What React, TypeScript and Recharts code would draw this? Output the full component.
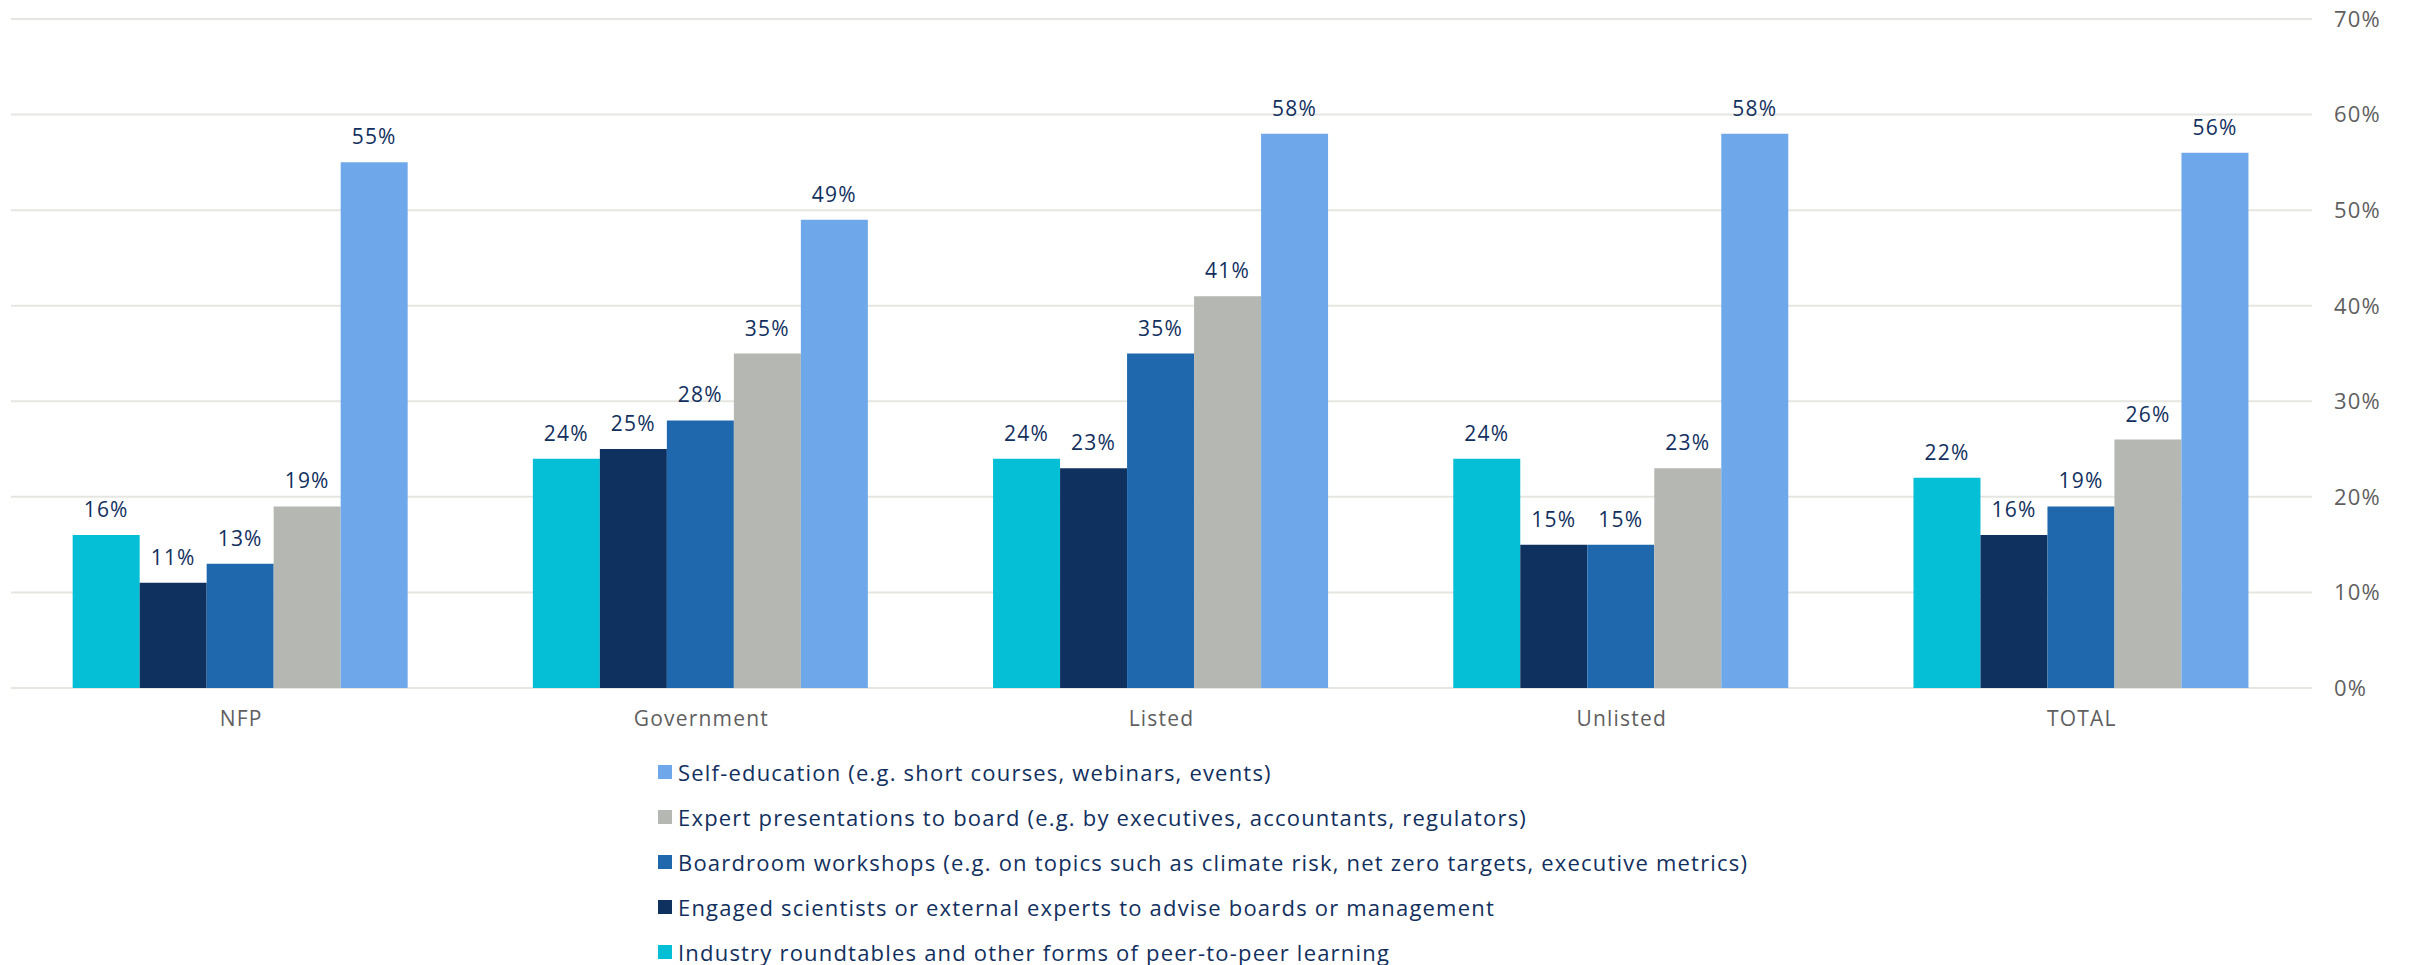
import { Bar, BarChart, CartesianGrid, LabelList, XAxis, YAxis } from "recharts";

const categories = ["NFP", "Government", "Listed", "Unlisted", "TOTAL"];

// one array per survey answer, in category order
const industryRoundtables = [16, 24, 24, 24, 22];
const engagedScientists = [11, 25, 23, 15, 16];
const boardroomWorkshops = [13, 28, 35, 15, 19];
const expertPresentations = [19, 35, 41, 23, 26];
const selfEducation = [55, 49, 58, 58, 56];

const yTicks = [0, 10, 20, 30, 40, 50, 60, 70];

const series = [
  { key: "industry", name: "Industry roundtables and other forms of peer-to-peer learning", values: industryRoundtables, color: "#05BFD7" },
  { key: "scientists", name: "Engaged scientists or external experts to advise boards or management", values: engagedScientists, color: "#0F3160" },
  { key: "workshops", name: "Boardroom workshops (e.g. on topics such as climate risk, net zero targets, executive metrics)", values: boardroomWorkshops, color: "#1F68AD" },
  { key: "expert", name: "Expert presentations to board (e.g. by executives, accountants, regulators)", values: expertPresentations, color: "#B5B7B2" },
  { key: "self", name: "Self-education (e.g. short courses, webinars, events)", values: selfEducation, color: "#6FA8EA" },
];

const data = categories.map((label, i) => {
  const row: Record<string, string | number> = { label };
  series.forEach((s) => {
    row[s.key] = s.values[i];
  });
  return row;
});

const FONT = "'Open Sans', Lato, sans-serif";
const NAVY = "#12305E";
const GREY = "#5F5F5F";
const SPACING = 1.2;

function ChartLegend() {
  // legend lists the answers top-down in reverse bar order
  const items = [...series].reverse();
  return (
    <div style={{ position: "absolute", left: 658, top: 749, fontFamily: FONT }}>
      {items.map((s) => (
        <div key={s.key} style={{ display: "flex", alignItems: "center", height: 45 }}>
          <span style={{ width: 14, height: 14, background: s.color, marginRight: 6, flex: "none" }} />
          <span style={{ fontSize: 22, color: NAVY, whiteSpace: "nowrap", letterSpacing: SPACING }}>{s.name}</span>
        </div>
      ))}
    </div>
  );
}

export default function App() {
  return (
    <div style={{ position: "relative", width: 2410, height: 965, background: "#fff" }}>
      <style>{"body{margin:0}"}</style>
      <BarChart
        width={2410}
        height={965}
        data={data}
        margin={{ top: 19, right: 0, bottom: 0, left: 11 }}
        barCategoryGap="13.4%"
        barGap={0}
      >
        <CartesianGrid vertical={false} stroke="#E6E6E1" strokeWidth={2} />
        <XAxis
          dataKey="label"
          height={277}
          axisLine={false}
          tickLine={false}
          tickMargin={17}
          tick={{ fill: GREY, fontSize: 21, fontFamily: FONT, letterSpacing: SPACING }}
        />
        <YAxis
          orientation="right"
          width={98}
          domain={[0, 70]}
          ticks={yTicks}
          axisLine={false}
          tickLine={false}
          tickMargin={16}
          tickFormatter={(v) => `${v}%`}
          tick={{ fill: GREY, fontSize: 22, fontFamily: FONT, textAnchor: "start", letterSpacing: SPACING }}
        />
        {series.map((s) => (
          <Bar key={s.key} dataKey={s.key} name={s.name} fill={s.color} isAnimationActive={false}>
            <LabelList
              dataKey={s.key}
              position="top"
              offset={18}
              formatter={(v: number) => `${v}%`}
              style={{ fill: NAVY, fontSize: 21, fontFamily: FONT, letterSpacing: SPACING }}
            />
          </Bar>
        ))}
      </BarChart>
      <ChartLegend />
    </div>
  );
}
